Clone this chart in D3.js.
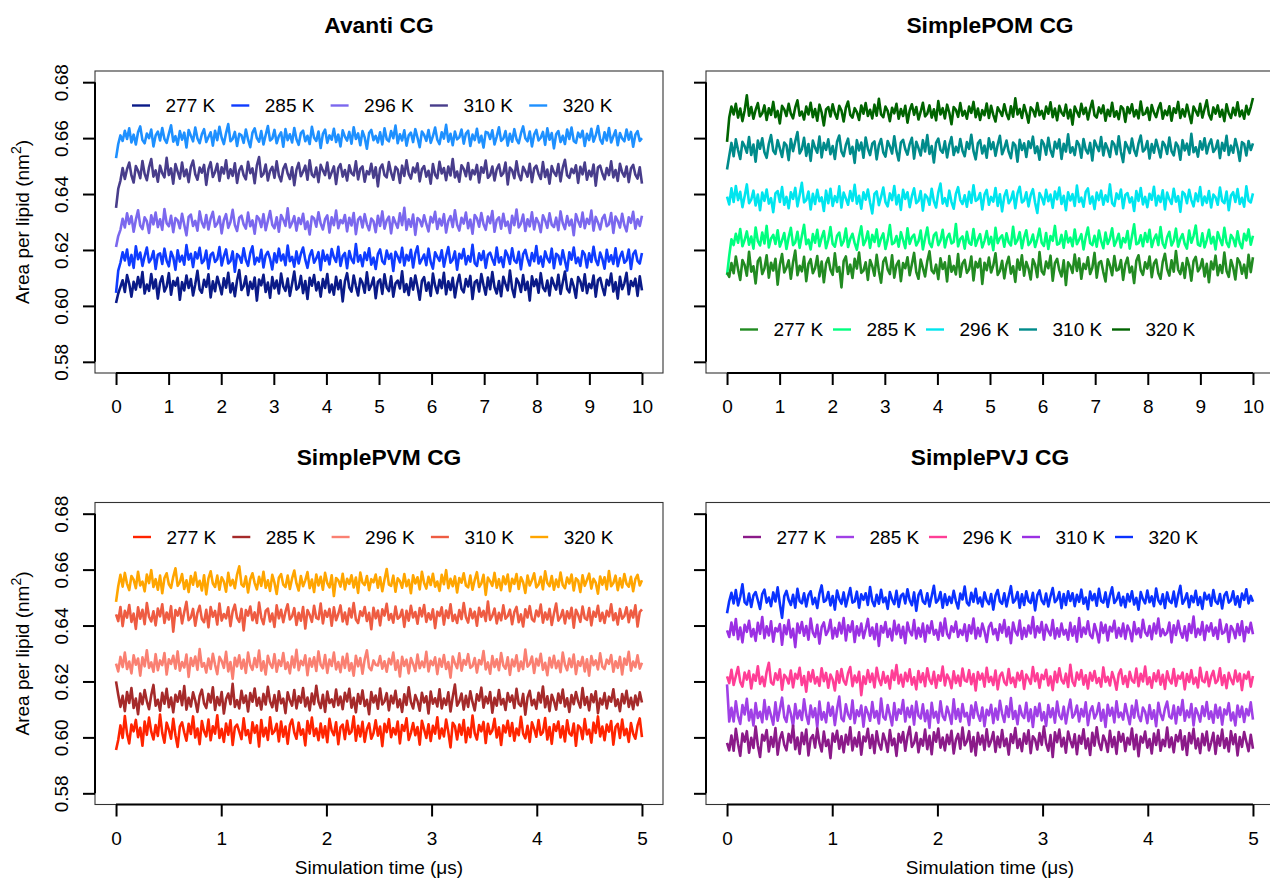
<!DOCTYPE html>
<html>
<head>
<meta charset="utf-8">
<script src="https://cdn.jsdelivr.net/npm/d3@7"></script>
<style>
  html, body { margin: 0; padding: 0; background: #fff; }
  svg { display: block; font-family: "Liberation Sans", Arial, Helvetica, sans-serif; }
</style>
</head>
<body>
<svg id="chart" width="1270" height="881"></svg>
<script>
// ---------------- DATA ----------------
const temperatures = ["277 K", "285 K", "296 K", "310 K", "320 K"];
const yTicks = [0.58, 0.60, 0.62, 0.64, 0.66, 0.68];
const xTicksLong = [0, 1, 2, 3, 4, 5, 6, 7, 8, 9, 10];
const xTicksShort = [0, 1, 2, 3, 4, 5];
const titles = ["Avanti CG", "SimplePOM CG", "SimplePVM CG", "SimplePVJ CG"];
const simLengths = [10, 10, 5, 5]; // microseconds

// mean area per lipid (nm^2) per temperature
const avantiMeans = [0.6075, 0.6171, 0.6300, 0.6479, 0.6604];
const pomMeans    = [0.6139, 0.6230, 0.6384, 0.6566, 0.6693];
const pvmMeans    = [0.6026, 0.6133, 0.6264, 0.6437, 0.6556];
const pvjMeans    = [0.5990, 0.6086, 0.6211, 0.6383, 0.6496];

const devUnit = 1.4e-4;
const avantiDev = [
`-46 -22 -5 12 -18 25 3 -30 8 -12 20 -6 33 -22 1 -15 28 -9 14 -35
6 22 -17 -4 30 -25 10 -2 18 -38 7 -14 24 -8 15 -27 2 36 -11 -20
13 -5 27 -32 9 -16 21 0 -24 17 -7 31 -19 4 -29 12 38 -13 -3 22
-26 8 -10 19 -40 14 -1 26 -18 6 -33 20 -9 11 -22 29 -4 -15 16 -28
3 34 -12 -6 23 -21 10 -36 18 -2 25 -14 7 -30 15 -8 28 -19 1 -25
21 -11 12 -42 9 30 -7 -17 24 -3 -27 16 5 -20 32 -13 -1 19 -34 8
14 -23 27 -6 -16 22 -30 4 11 -9 35 -18 2 -26 17 -12 24 -5 -38 10
20 -15 6 -28 29 -2 -21 13 -8 31 -24 9 -13 18 -32 3 26 -10 -19 15
-4 23 -36 7 12 -17 28 -1 -25 19 -11 33 -6 -22 10 -29 21 2 -14 37
-9 -31 16 5 -18 25 -13 8 -40 22 -3 14 -20 30 -7 -16 11 -27 18 1
-12 26 -23 6 34 -10 -19 15 -4 -33 20 9 -15 27 -21 3 -8 24 -30 12
18 -6 -26 13 -1 29 -17 7 -35 21 -11 4 31 -24 10 -3 16 -28 22 -14`,
`-89 -32 -12 15 -6 22 -18 8 -25 30 -3 14 -20 5 27 -11 -2 18 -28 9
12 -15 24 -7 -21 16 2 -30 20 -9 6 -17 33 -4 11 -23 15 -1 26 -13
-6 19 -27 8 14 -10 -3 28 -19 5 22 -14 -8 17 -35 10 4 -12 25 -5
-20 13 30 -16 1 -9 21 -24 7 16 -2 -29 12 -11 24 -6 9 -18 32 -8
3 -22 17 -14 11 27 -4 -25 6 20 -12 -1 15 -31 19 -7 8 -16 23 2
-10 29 -20 5 13 -26 18 -3 -13 36 -9 7 -21 14 -5 25 -17 1 -28 10
22 -8 -15 19 -2 11 -33 16 4 -11 26 -19 8 -6 21 -24 12 30 -14 -3
9 -18 24 -10 -27 15 3 -7 20 -22 6 28 -12 -4 17 -30 11 -1 23 -16
5 -9 34 -13 -20 12 -5 18 -25 8 14 -3 -17 27 -11 2 -23 19 7 -15
25 -6 -12 16 -29 10 21 -2 -19 13 -8 31 -14 4 -22 17 -1 -11 24 -26
11 6 -16 20 -7 -32 15 -4 27 -13 1 -20 18 9 -24 12 -10 29 -5 -18
14 -2 -27 21 -9 7 -15 25 -21 3 16 -12 -6 22 -28 10 19 -8 -14 13`,
`-64 -36 -20 8 -14 22 -5 15 -25 6 30 -9 -18 12 2 -28 17 -6 24 -13
7 -20 33 -3 -11 16 -26 10 4 -16 21 -7 -34 13 19 -10 3 -22 27 -1
-14 18 -19 9 26 -12 -4 14 -29 5 20 -15 0 31 -8 -23 11 16 -6 -17
24 -11 4 -30 15 8 -13 20 -21 3 28 -7 -16 12 -25 18 6 -10 35 -14
-2 15 -22 10 -5 21 -18 1 -32 14 9 -12 25 -4 -19 7 17 -27 12 -8
29 -16 5 -3 18 -24 11 -9 23 -31 6 13 -14 20 -6 -21 9 2 -26 16
-10 27 -17 4 14 -29 12 -2 -15 22 -8 36 -20 7 -12 19 -33 10 5 -11
17 -5 -24 13 -1 26 -18 8 -9 20 -27 3 15 -13 30 -7 -22 11 -4 24
-16 6 -30 18 9 -12 23 -6 -20 14 -3 28 -25 5 12 -17 21 -10 1 -28
16 -8 32 -14 -4 19 -23 7 -11 25 -19 10 -2 -26 17 4 -15 22 -7 -13
11 -21 27 -3 -18 15 -9 6 -34 20 2 -12 24 -16 8 -5 29 -22 13 -1
-19 9 18 -11 -6 23 -28 14 3 -14 21 -8 -24 12 -2 26 -17 7 -10 16`,
`-92 -43 -22 10 -18 7 24 -9 -27 15 3 -16 28 -5 -21 12 33 -12 4 -25
16 -3 -14 36 -8 9 -30 20 1 -17 24 -11 6 -26 13 29 -6 -20 11 -2
18 -33 8 25 -13 0 21 -23 12 -4 30 -16 7 -10 22 -28 4 15 -8 -19
26 -3 9 -29 17 38 -12 -5 19 -22 3 13 -15 27 -9 -24 8 20 -4 -18
12 -34 6 23 -11 1 16 -20 30 -7 -13 11 -26 18 4 -8 24 -16 -1 14
-31 10 20 -12 5 -22 17 -3 -9 27 -19 8 14 -25 2 -6 21 -15 12 -37
9 19 -8 -14 25 -2 -20 13 6 -28 16 -10 30 -5 -17 11 -1 22 -24 7
15 -12 3 -30 20 -7 -16 26 -4 10 -21 14 -9 33 -14 1 -25 17 8 -11
23 -19 5 -6 18 -27 12 -2 29 -15 -8 14 -22 7 19 -10 -3 24 -32 11
4 -16 27 -7 -21 13 2 -12 21 -26 9 16 -5 -18 25 -13 6 -30 15 -1
-10 20 -24 11 31 -9 -15 8 -3 17 -28 13 -6 24 -20 3 -11 19 -35 12
16 -4 -19 10 -8 27 -14 5 -23 21 -1 -12 14 -26 9 18 -7 -17 12 -30`,
`-54 -18 4 -10 16 -5 22 -14 6 -19 12 27 -8 -16 9 -3 19 -24 4 14
-9 23 -5 -15 8 30 -12 2 -20 15 -7 11 -27 18 3 -11 24 -4 -16 7
20 -13 0 12 -22 16 -8 26 -2 -18 10 33 -11 -5 13 -23 8 4 -15 19
-7 -26 11 22 -3 -12 15 -19 5 28 -9 -4 18 -16 2 12 -25 20 -8 7
-14 23 -6 -20 10 16 -11 3 -18 26 -2 -10 14 -28 8 19 -15 4 -7 21
-13 6 -24 17 1 -9 13 -17 25 -5 9 -21 15 -1 -30 10 18 -8 3 -14
12 -19 22 -6 -11 15 -3 29 -16 7 -9 17 -22 4 11 -13 20 -2 -26 14
5 -10 18 -15 2 24 -7 -18 12 -4 31 -12 8 -21 14 -6 -1 19 -17 9
16 -23 6 -8 21 -14 3 -27 13 11 -5 17 -19 1 25 -10 -4 15 -22 8
-12 20 -6 -16 9 27 -3 -11 14 -24 6 18 -9 -2 13 -20 22 -7 10 -29
7 15 -13 3 -18 19 -5 24 -10 -15 11 -1 16 -23 8 -8 21 -12 4 28
-6 -17 12 -9 23 -14 2 17 -21 10 -4 -11 19 -7 13 -25 6 15 -10 -3`
];
const pomDev = [
`-14 -25 10 -16 27 -6 -33 18 5 -22 39 -12 2 -42 15 24 -18 -4 30 -27
11 -9 21 -45 6 33 -14 -2 17 -30 12 42 -21 3 -11 26 -36 8 20 -16
-3 28 -24 14 -39 9 23 -7 -20 35 -12 0 -52 15 27 -18 6 -28 21 -4
37 -15 -9 12 -33 18 2 -22 31 -10 -40 14 24 -6 -18 30 -27 5 16 -36
10 -3 25 -21 7 36 -13 -30 19 -2 -24 15 40 -9 -16 6 -31 22 -5 12
-37 28 -12 3 -19 33 -25 9 18 -15 -6 27 -34 13 -1 21 -43 11 -8 24
-14 4 35 -20 -10 16 -29 7 26 -17 2 -38 19 -7 30 -22 13 -4 -32 20
6 -26 38 -11 -19 14 -3 29 -35 10 21 -8 -24 17 -46 12 3 -15 32 -10
22 -30 8 -5 25 -18 -2 36 -27 11 15 -13 -37 20 4 -21 28 -9 -6 18
-33 7 24 -14 1 -41 16 30 -8 -20 12 -4 27 -26 9 19 -16 -30 13 34
-5 -22 17 -12 41 -7 -18 10 -28 23 3 -35 15 26 -11 -2 20 -24 8 -39
14 -6 29 -21 5 -15 37 -10 -25 18 -1 -32 22 12 -17 6 -28 31 -13 25`,
`-86 -36 6 -9 20 -3 32 -12 4 26 -8 13 -18 36 1 -10 23 -5 40 -15
8 17 -6 29 -13 3 22 -19 11 35 -9 -2 25 -16 14 43 -7 5 -20 19
-3 30 -12 10 27 -17 4 37 -6 -13 15 23 -10 1 33 -14 7 20 -4 -21
13 39 -9 3 26 -16 17 -1 31 -12 8 21 -19 5 42 -7 -3 14 -13 24
4 -17 34 -6 11 18 -10 1 28 -20 9 36 -4 -14 16 23 -9 3 30 -15
10 20 -5 -1 45 -12 7 13 -18 25 -3 -8 32 -11 6 19 -15 2 27 -7
12 -22 35 -4 9 16 -13 21 -2 -10 38 -6 4 24 -17 11 29 -9 -1 18
-14 7 33 -3 -11 22 -19 14 2 40 -8 -5 17 -16 26 -2 10 -12 31 -7
5 19 -20 12 36 -4 -9 15 -13 28 1 -17 23 -6 8 34 -11 3 20 -15
9 -2 27 -18 13 44 -7 -4 16 -12 22 -1 30 -14 6 18 -9 37 -5 -16
11 25 -10 2 33 -13 7 19 -6 -18 28 -3 14 41 -8 -11 21 -15 4 30
-5 12 -20 24 6 -9 35 -2 -14 17 8 -12 26 -4 -17 20 3 31 -8 15`,
`5 -15 26 -9 32 -4 17 -22 6 36 -12 -3 20 -18 10 -30 15 -6 23 -13
1 -35 13 19 -9 29 -16 4 -25 16 -1 27 -20 9 40 -10 -4 18 -28 12
-14 22 -7 3 -32 20 -12 25 -19 6 -9 31 -23 15 0 -16 19 -6 35 -13
7 -26 16 -3 23 -10 -38 12 18 -17 4 28 -9 -20 13 -4 32 -15 9 -29
22 -1 16 -22 6 26 -12 -6 19 -31 10 3 -16 25 -7 -23 15 38 -13 1
-19 20 -9 -26 12 29 -4 -14 8 -21 17 -11 34 -6 -2 14 -28 10 22 -16
4 -8 27 -19 11 -33 6 21 -12 -3 18 -25 13 30 -10 -5 16 -20 9 24
-11 -37 14 3 -15 22 -7 10 -24 18 -2 28 -14 7 -30 16 -5 11 -19 33
-9 2 -21 17 26 -13 5 -27 15 -4 20 -16 8 -8 36 -12 -19 13 -1 23
-25 9 14 -10 3 -32 19 -6 27 -15 4 -22 12 -3 30 -18 7 -9 21 -28
15 -2 -14 25 -8 6 -34 17 11 -12 22 -4 -20 13 -7 29 -17 5 -11 19
-23 10 3 -16 28 -6 -12 18 -30 8 16 -9 24 -14 2 -21 31 -5 -10 13`,
`-56 -21 12 -22 21 -6 -29 15 4 -13 27 -19 8 -36 18 -3 24 -12 -26 10
32 -8 -16 19 -2 -24 13 6 -32 22 -9 16 40 -15 -4 25 -21 9 -34 18
0 -13 28 -25 12 -6 21 -17 4 -29 15 31 -10 -22 7 23 -16 2 -39 19
-7 13 -26 26 -3 -19 10 16 -30 6 22 -12 -23 17 3 -15 29 -9 -33 13
20 -4 -18 9 25 -28 15 -1 -20 19 -10 32 -16 4 -38 12 23 -6 -13 16
-25 7 27 -19 2 -12 22 -8 -22 14 -3 33 -9 -30 11 19 -15 5 -26 24
-4 14 -21 8 30 -17 -2 18 -11 -27 13 6 -36 20 -6 11 -24 16 -1 28
-14 3 -31 19 9 -18 25 -7 -23 15 -2 21 -29 10 -10 34 -13 1 -19 17
7 -26 22 -5 -15 12 -33 18 4 -9 27 -20 11 -3 -24 16 8 -17 29 -11
-37 14 2 -14 23 -6 -21 11 31 -10 -4 17 -28 9 -13 20 -2 -25 15 6
-16 26 -9 -20 13 3 -31 19 -7 10 -18 35 -12 1 -23 16 -5 24 -15 8
21 -11 -3 18 -27 12 -8 30 -19 5 -13 22 -1 -34 14 9 -20 17 -6 11`,
`-76 -14 14 -6 21 -14 9 -23 4 43 -9 13 -17 6 23 -11 -3 17 -20 10
-7 26 -13 3 -29 16 7 -10 21 -4 -16 12 30 -9 1 -19 14 -6 24 -13
8 -22 19 -1 -34 7 13 -11 20 -3 -17 16 4 -24 11 27 -7 -14 10 0
-20 17 -4 23 -10 6 -16 19 -9 34 -6 -13 14 3 -23 11 -3 21 -17 8
-10 16 -27 4 20 -7 13 -19 1 24 -11 -4 17 -14 7 -21 28 -6 10 -16
19 -1 -31 13 6 -12 23 -9 3 -17 14 -2 26 -13 9 -20 5 -8 22 -15
16 -7 -24 12 2 -10 20 -4 -18 15 -12 35 -6 8 -15 18 -2 -27 12 5
-11 23 -8 3 -17 14 -4 25 -13 9 -21 16 -1 -9 19 -16 6 -32 14 1
-12 21 -5 11 -19 8 29 -8 -14 12 -3 17 -22 6 -10 24 -12 2 -18 15
9 -25 13 -3 20 -11 5 -16 27 -7 -4 11 -20 18 -1 -13 9 23 -17 4
-8 15 -22 10 -2 26 -15 7 -11 19 -5 -28 14 3 -9 21 -14 8 30 -6
-19 12 -4 17 -12 6 -23 20 -3 -15 11 -8 25 -11 4 -17 16 -6 13 36`
];
const pvmDev = [
`-51 -25 12 -20 36 -9 -34 14 -3 26 -18 6 -40 22 -12 32 -4 -24 13 -15
40 -7 -32 19 1 -22 29 -13 -43 9 20 -6 -27 16 -10 35 -19 4 -36 23
-3 -16 27 -26 10 -9 38 -20 3 -30 17 -12 25 -38 7 14 -4 -23 30 -13
0 -33 20 -7 12 -42 26 -16 6 -25 33 -10 -3 16 -29 22 -17 9 -35 13
27 -6 -22 19 -12 2 -39 23 -9 32 -15 4 -26 17 -19 10 -31 29 -1 -13
20 -36 7 14 -23 24 -10 -4 35 -27 11 -16 21 -30 3 17 -22 -8 25 -14
9 -41 16 -5 28 -18 5 -11 22 -34 13 -2 30 -25 -7 18 -13 8 -37 24
2 -20 15 -28 11 -9 33 -21 4 -16 27 -5 -44 19 10 -24 14 -12 26 -31
6 -18 37 -8 -24 13 -3 21 -33 16 -10 -1 29 -19 7 -38 12 -6 24 -15
18 -27 4 -13 34 -9 -21 11 -30 20 3 -17 26 -12 -5 31 -24 8 -35 15
-2 22 -19 10 -29 25 -8 -14 17 -40 12 6 -23 28 -11 1 -32 19 -7 35
-16 9 -26 14 -4 23 -37 8 16 -20 27 -13 3 -30 18 -9 -22 12 30 -18`,
`48 14 -17 11 -28 21 -7 31 -20 4 -36 17 -10 26 -3 -23 13 39 -14 1
-27 19 -9 29 -18 7 -31 14 -4 23 -13 36 -24 6 -16 20 -1 -30 11 27
-8 -20 16 -6 33 -25 8 -13 21 -34 3 17 -10 42 -17 0 -21 24 -7 12
-29 18 -4 30 -14 6 -24 16 -11 34 -3 -18 13 -27 23 -8 4 -33 20 -1
-14 26 -21 10 -6 31 -16 7 -26 17 -10 37 -4 -20 14 -30 22 -7 2 -17
27 -13 9 -23 19 -3 29 -19 6 -31 16 -9 25 -15 1 -36 21 -6 12 -22
30 -11 -3 18 -26 11 -8 24 -18 2 -30 15 -12 33 -5 -21 13 -2 -27 19
-6 10 -34 22 -9 5 -16 28 -21 4 -12 20 -29 8 40 -14 -3 17 -24 11
-17 23 -5 -26 15 -1 32 -19 9 -8 21 -32 6 -14 26 -11 3 -25 18 -4
12 -20 29 -9 -15 16 -37 7 24 -13 1 -22 19 -6 35 -18 10 -28 14 -2
-24 17 -7 27 -16 5 -30 13 -10 21 -3 -19 31 -12 8 -26 15 -5 23 -33
4 -11 18 -21 9 -4 28 -15 2 -28 16 -8 24 -17 6 -23 12 -13 20 -6`,
`0 -20 17 -9 28 -14 5 -25 21 -3 13 -31 16 -7 34 -11 3 -21 24 -17
8 -4 27 -28 11 -1 20 -13 31 -18 4 -10 23 -34 14 -6 18 -16 37 -8
1 -23 13 -14 25 -3 -27 17 7 -11 30 -20 4 -39 15 -7 21 -13 10 -24
28 -4 -16 14 -9 33 -18 6 -28 20 -1 -11 24 -21 8 -6 27 -14 3 -25
18 -10 35 -17 7 -4 21 -30 13 -8 16 -19 31 -3 -12 22 -24 10 -6 28
-15 4 -22 17 -11 25 -18 1 -31 20 -7 14 -26 11 34 -10 -17 8 -3 -5
19 -13 6 -21 12 -2 28 -16 8 -33 17 -6 10 -25 14 -1 -19 23 -12 5
-9 30 -20 7 -4 16 -27 12 -8 22 -14 4 -36 18 1 -12 26 -18 9 -3
24 -11 -6 14 -23 9 -2 32 -15 3 -26 19 -9 11 -17 27 -5 -13 16 -29
10 -7 21 -19 5 -14 36 -8 -1 18 -24 12 -5 25 -16 2 -30 15 -10 20
-12 7 -22 28 -3 -17 13 -9 23 -27 6 -6 17 -20 11 -31 19 -4 8 -15
26 -8 -14 10 -1 22 -21 6 -11 17 -28 13 -3 30 -18 5 -9 21 -13 2`,
`2 -15 21 -28 11 -6 26 -17 4 -35 20 -9 14 -23 31 -4 -16 10 -26 17
-3 28 -20 7 -11 23 -42 13 -1 18 -21 8 34 -13 -6 16 -27 6 24 -10
-18 14 -31 21 -4 11 -24 30 -14 3 -8 20 -28 10 27 -7 -17 16 -39 13
-1 22 -13 7 -20 32 -6 -23 11 17 -16 4 -30 25 -8 14 -18 9 28 -11
-3 18 -25 6 -14 21 -34 13 1 -17 24 -7 -10 30 -21 11 -4 16 -27 20
-13 3 25 -16 7 -23 17 -6 31 -11 -20 10 -2 21 -15 6 -36 19 -8 12
-26 15 -1 29 -12 3 -19 22 -9 -4 14 -30 11 -14 24 -6 8 -22 18 -3
26 -17 5 -11 15 -33 9 -2 20 -24 12 -7 28 -15 1 -20 13 -10 31 -5
-19 16 -8 9 -27 19 -4 11 -15 35 -12 -1 17 -21 6 -13 25 -9 -2 14
-23 8 21 -18 2 -29 15 -6 23 -10 -16 12 -3 27 -19 7 -11 16 -25 4
30 -14 -5 13 -21 10 -8 19 -32 14 1 -17 22 -7 -12 18 -26 9 -4 24
-15 6 -20 11 -3 28 -13 5 -24 16 -9 -2 20 -18 12 -6 25 -29 8 15`,
`-51 -11 18 -12 23 -5 -21 15 6 -16 26 -9 1 -24 19 -3 30 -13 7 -20
16 -29 10 22 -6 -15 13 35 -10 -1 20 -18 4 -26 15 -7 24 -12 3 -22
17 -32 9 27 -4 -13 16 -20 12 1 -25 23 -9 5 -16 19 40 -6 -12 14
-27 7 22 -3 -19 13 -10 26 -15 4 -23 18 -2 -31 11 20 -7 -13 16 -18
9 29 -4 -22 15 -11 4 25 -16 6 -26 19 -9 13 -20 23 -3 -14 17 -36
10 4 -12 21 -19 8 -5 17 -14 11 -28 24 -2 -8 15 -21 7 -1 19 -15
12 -24 6 33 -7 -10 16 -25 9 2 -15 20 -11 5 -29 17 -4 12 -19 26
-3 -17 13 -8 21 -12 1 -23 18 -6 30 -16 8 -11 14 -27 10 -2 22 -9
-14 16 -20 5 25 -13 -4 18 -33 11 2 -10 23 -15 7 -21 14 -6 19 -24
8 -5 20 -18 12 -1 -28 16 -9 4 22 -14 -7 13 -19 27 -3 -11 15 -20
6 -13 24 -8 -16 11 -4 19 -22 9 3 -26 17 -10 5 21 -17 8 -2 -30
14 -7 12 -19 28 -11 -3 16 -21 9 -14 20 -5 -12 13 -24 7 18 -9 4`
];
const pvjDev = [
`-7 -26 12 -27 29 -9 -40 17 -4 23 -32 6 -20 35 -13 -43 14 -1 26 -29
8 -17 31 -37 3 20 -12 -26 16 -6 37 -23 7 -35 19 -10 27 -39 4 13
-19 30 -7 -29 22 -15 1 -46 17 -4 24 -22 10 -31 14 -11 33 -26 6 -16
20 -37 9 -3 29 -20 13 -33 23 -9 -24 17 -1 -30 26 -13 4 -40 16 -6
21 -27 10 34 -17 -7 19 -31 3 -14 27 -23 11 -36 20 -4 30 -19 7 -26
14 -10 24 -34 1 16 -22 32 -13 -3 23 -29 8 -39 19 -11 12 -25 28 -16
-2 21 -30 9 -18 26 -15 4 -37 15 -7 31 -20 3 -28 17 -9 25 -33 10
2 -24 18 -12 35 -8 -27 13 -43 20 -5 27 -16 6 -32 22 -1 -18 15 -36
11 -9 28 -21 4 -38 19 -14 33 -7 -25 12 -2 -30 24 -17 8 -35 21 -4
16 -28 6 -11 30 -23 14 -41 9 -6 22 -19 3 -34 17 -12 26 -27 1 -15
32 -18 7 -31 13 -3 25 -24 10 -38 18 -8 29 -21 4 -33 16 -13 22 -26
-6 19 -35 11 -14 27 -20 5 -29 23 -10 15 -39 8 -17 21 -4 -28 14 -22`,
`74 -21 14 -21 31 -8 -27 21 -3 37 -18 9 -31 26 -12 4 -23 34 -15 16
-6 -29 28 -19 10 40 -9 -22 19 -1 -33 24 -13 7 -17 36 -4 -27 20 -10
13 -36 30 -16 3 -23 27 -6 17 -30 11 43 -13 -20 23 -3 -14 33 -25 8
-7 20 -34 16 1 -19 29 -11 6 -26 38 -9 -16 21 -4 -31 26 -17 10 -1
34 -21 14 -10 19 -29 30 -6 -13 23 -20 7 -37 27 -11 4 -24 31 -7 -17
17 -2 -27 36 -14 11 -21 24 -8 1 -30 20 -12 28 -3 -19 15 -33 9 -5
22 -25 12 -16 32 -1 -22 18 -9 39 -14 6 -28 19 -4 -12 27 -20 10 -35
16 -7 25 -18 3 -32 21 -10 13 -24 30 -5 -15 17 -26 8 35 -11 -2 20
-21 11 -8 28 -30 5 18 -13 -1 26 -19 9 -35 22 -6 14 -23 31 -10 2
-16 24 -3 -28 19 -11 33 -7 -20 15 4 -25 21 -14 8 -33 27 -2 -17 12
30 -8 -13 20 -26 16 -4 34 -19 7 -10 24 -31 13 -1 -21 18 -7 29 -14
5 -24 22 -11 15 -29 10 -3 26 -18 2 -31 20 -9 17 -22 11 -5 28 -16`,
`5 -12 22 -17 6 29 -9 -21 15 -3 19 -26 10 -6 31 -14 4 -20 17 40
-10 -16 13 -4 23 -29 9 2 -13 20 -23 12 -1 27 -17 6 -34 16 -8 21
-13 3 -19 26 -7 14 -24 10 -3 -31 18 -11 24 -6 -16 13 29 -20 7 -10
17 -43 5 -14 21 -9 12 -23 27 -2 -17 16 -11 6 -26 20 -4 34 -13 9
-21 14 -7 23 -16 3 -28 19 -10 13 -20 26 -3 -14 17 -24 8 -6 30 -18
10 -2 -25 18 -12 7 -19 25 -5 -8 21 -15 11 -31 16 -3 12 -21 27 -9
4 -17 20 -28 6 15 -9 -17 24 -12 2 -22 14 -5 19 -27 10 -1 -14 29
-7 13 -24 9 -2 22 -18 5 -30 17 -10 26 -4 -13 12 -22 35 -8 -19 15
-3 21 -16 8 -26 14 -6 19 -12 1 -21 28 -9 4 -18 16 -2 -29 11 23
-14 6 -22 17 -5 -11 25 -20 12 -8 30 -15 3 -24 13 -7 20 -16 9 -27
18 -4 -13 24 -19 7 -1 15 -28 11 -9 21 -14 2 -23 27 -6 -10 16 -20
5 19 -12 -5 26 -17 8 -25 14 -3 -15 20 -8 12 -30 10 -1 17 -21 6`,
`0 -17 20 -12 29 -23 7 -31 14 -4 24 -16 3 -27 19 -9 34 -20 10 -13
23 -29 6 -3 16 -37 13 -10 26 -18 4 -43 17 -7 21 -14 11 -24 30 -6
-17 14 -34 8 20 -12 -1 27 -21 6 -16 19 -8 31 -26 13 -4 23 -30 10
-13 17 -20 3 29 -14 7 -23 16 -40 11 -6 21 -17 4 -26 24 -10 14 -19
9 -33 20 -3 -13 26 -21 6 -16 17 -29 12 -7 23 -11 1 -24 19 -14 30
-9 -20 10 -4 22 -17 1 -12 15 -27 13 -8 30 -21 6 -15 17 -3 -30 9
19 -10 3 -25 15 -6 26 -16 8 -33 20 -3 -13 25 -22 6 -16 12 -8 34
-18 10 -6 21 -24 14 -2 -13 26 -21 5 -16 17 -11 1 -24 19 -14 10 -29
31 -17 7 -9 23 -12 -20 16 -4 -31 20 -7 14 -26 9 -3 24 -19 6 -15
17 -22 12 -1 -28 21 -10 5 -18 27 -5 -14 11 -23 17 -8 30 -15 3 -12
-6 20 -31 13 -12 24 -4 -19 10 -26 16 -7 35 -17 4 -11 21 -25 12 -3
18 -14 7 -22 27 -9 -5 15 -30 11 1 -20 16 -12 23 -28 8 -6 19 -10`,
`-37 -6 15 -12 22 -17 5 37 -9 -15 13 -21 8 17 -4 -26 12 23 -10 3
-19 16 -7 29 -13 -49 6 20 -3 -16 10 -23 25 -6 -12 14 -20 9 19 -14
2 -24 13 34 -8 -4 17 -17 7 -28 21 -1 -13 16 -20 4 27 -10 -7 18
-23 11 -3 14 -16 30 -6 -19 10 -13 23 -9 3 -26 17 -2 -14 20 -21 7
13 -12 24 -4 -17 16 -31 9 21 -7 -13 14 -20 6 33 -10 -3 17 -23 11
-16 5 -11 20 -6 -25 13 -2 31 -10 -17 15 -8 25 -12 3 -20 16 -5 -14
12 -28 8 22 -7 -13 14 -20 6 32 -10 -3 17 -23 11 -16 19 -6 -11 15
-30 9 21 -5 -14 13 -20 6 27 -9 -2 17 -24 12 -16 19 -6 14 -19 10
-8 23 -13 3 -27 18 -4 12 -18 25 -6 -10 16 -21 8 29 -11 -3 15 -17
5 -22 12 -7 19 -15 2 -28 17 -1 -12 21 -9 6 -19 26 -4 -14 11 -24
16 -6 -11 18 -20 9 33 -13 -3 14 -22 7 -9 20 -16 4 -26 15 -2 10
-18 22 -7 -13 12 -25 8 17 -10 -4 19 -15 6 -21 13 -3 24 -12 7 -8`
];

const avantiColors = ["#0a1a88", "#0f3cff", "#7b68ee", "#483d8b", "#1e90ff"];
const pomColors    = ["#228b22", "#00ff7f", "#00e5ee", "#008b8b", "#006400"];
const pvmColors    = ["#ff2400", "#a52a2a", "#fa8072", "#ee5c42", "#ffa500"];
const pvjColors    = ["#8b1a89", "#a040e6", "#ff3e96", "#9b30e3", "#0a32ff"];

// ---------------- LAYOUT ----------------
const panels = [
  { title: titles[0], T: simLengths[0], xTicks: xTicksLong,  means: avantiMeans, dev: avantiDev, colors: avantiColors,
    box: [95, 663, 71, 373], yLabels: true,  xTitle: false, legend: { x0: 132, step: 99.3, y: 105.5 } },
  { title: titles[1], T: simLengths[1], xTicks: xTicksLong,  means: pomMeans,    dev: pomDev,    colors: pomColors,
    box: [706, 1274, 71, 373], yLabels: false, xTitle: false, legend: { x0: 740, step: 93, y: 329.5 } },
  { title: titles[2], T: simLengths[2], xTicks: xTicksShort, means: pvmMeans,    dev: pvmDev,    colors: pvmColors,
    box: [95, 663, 502.5, 804.5], yLabels: true,  xTitle: true, legend: { x0: 133, step: 99.3, y: 537 } },
  { title: titles[3], T: simLengths[3], xTicks: xTicksShort, means: pvjMeans,    dev: pvjDev,    colors: pvjColors,
    box: [706, 1274, 502.5, 804.5], yLabels: false, xTitle: true, legend: { x0: 743, step: 93, y: 537 } }
];

const svg = d3.select("#chart");
svg.append("rect").attr("width", 1270).attr("height", 881).attr("fill", "#fff");

const tickLen = 12;
const fontSize = 19;

panels.forEach(p => {
  const [L, R, Tp, B] = p.box;
  const xPad = p.T * 0.04, yPad = (0.68 - 0.58) * 0.04;
  const x = d3.scaleLinear().domain([-xPad, p.T + xPad]).range([L, R]);
  const y = d3.scaleLinear().domain([0.58 - yPad, 0.68 + yPad]).range([B, Tp]);
  const g = svg.append("g");

  const series = p.means.map((m, i) => {
    const d = p.dev[i].trim().split(/\s+/).map(Number);
    const n = d.length;
    return d.map((v, k) => ({ t: k * p.T / (n - 1), a: m + v * devUnit }));
  });
  const line = d3.line().x(d => x(d.t)).y(d => y(d.a));
  for (let i = series.length - 1; i >= 0; i--) {
    g.append("path").datum(series[i]).attr("d", line)
      .attr("fill", "none").attr("stroke", p.colors[i])
      .attr("stroke-width", 2.6).attr("stroke-linejoin", "round");
  }

  // box
  g.append("rect").attr("x", L).attr("y", Tp).attr("width", R - L).attr("height", B - Tp)
    .attr("fill", "none").attr("stroke", "#333").attr("stroke-width", 1.1);

  // y axis (R style)
  const yAx = d3.axisLeft(y).tickValues(yTicks).tickSize(tickLen).tickSizeOuter(0)
    .tickFormat(p.yLabels ? d3.format(".2f") : () => "");
  const ya = g.append("g").attr("transform", `translate(${L},0)`).call(yAx);
  ya.select(".domain").attr("d", `M0,${y(0.58)}V${y(0.68)}`).attr("stroke", "#000").attr("stroke-width", 2);
  ya.selectAll(".tick line").attr("stroke", "#000").attr("stroke-width", 2);
  ya.selectAll(".tick text")
    .attr("font-size", fontSize).attr("font-family", "Liberation Sans, Arial, sans-serif")
    .attr("fill", "#000")
    .attr("text-anchor", "middle")
    .attr("x", null).attr("dy", null)
    .attr("transform", "translate(-27,0) rotate(-90)")
    .attr("y", 0);

  // x axis
  const xAx = d3.axisBottom(x).tickValues(p.xTicks).tickSize(tickLen).tickSizeOuter(0).tickFormat(d3.format("d"));
  const xa = g.append("g").attr("transform", `translate(0,${B})`).call(xAx);
  xa.select(".domain").attr("d", `M${x(0)},0H${x(p.T)}`).attr("stroke", "#000").attr("stroke-width", 2);
  xa.selectAll(".tick line").attr("stroke", "#000").attr("stroke-width", 2);
  xa.selectAll(".tick text")
    .attr("font-size", fontSize).attr("font-family", "Liberation Sans, Arial, sans-serif")
    .attr("fill", "#000").attr("dy", null).attr("y", 40);

  // title
  svg.append("text").attr("x", (L + R) / 2).attr("y", Tp - 38)
    .attr("text-anchor", "middle").attr("font-weight", "bold").attr("font-size", 22.8)
    .text(p.title);

  // y title
  if (p.yLabels) {
    const yt = svg.append("text")
      .attr("transform", `translate(29,${(Tp + B) / 2}) rotate(-90)`)
      .attr("text-anchor", "middle").attr("font-size", fontSize);
    yt.append("tspan").text("Area per lipid (nm");
    yt.append("tspan").attr("dy", -8).attr("font-size", 14).text("2");
    yt.append("tspan").attr("dy", 8).text(")");
  }
  // x title
  if (p.xTitle) {
    svg.append("text").attr("x", (L + R) / 2).attr("y", 874)
      .attr("text-anchor", "middle").attr("font-size", fontSize)
      .text("Simulation time (\u03bcs)");
  }

  // legend
  const lg = svg.append("g");
  temperatures.forEach((t, i) => {
    const lx = p.legend.x0 + i * p.legend.step;
    lg.append("line").attr("x1", lx).attr("x2", lx + 18).attr("y1", p.legend.y).attr("y2", p.legend.y)
      .attr("stroke", p.colors[i]).attr("stroke-width", 2.4);
    lg.append("text").attr("x", lx + 33.5).attr("y", p.legend.y + 6.8)
      .attr("font-size", fontSize).text(t);
  });
});
</script>
</body>
</html>
